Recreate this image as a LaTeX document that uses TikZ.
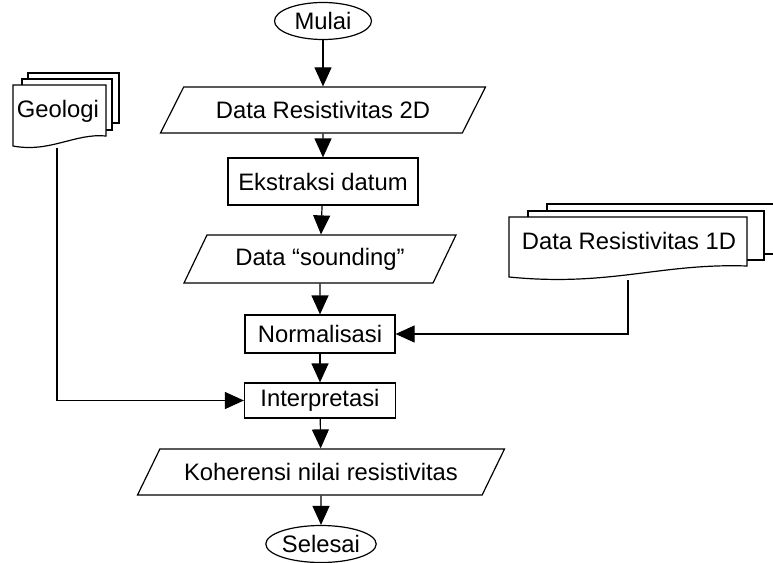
\documentclass[tikz,border=0pt]{standalone}
\usepackage{fontspec}
\setmainfont{Liberation Sans}
\usetikzlibrary{shapes.geometric,arrows.meta}

\begin{document}
\begin{tikzpicture}[x=1pt,y=-1pt,line width=1.2pt,
    font=\fontsize{23.8}{28}\selectfont,
    terminal/.style={draw, ellipse, inner sep=0pt},
    process/.style={draw, rectangle, inner sep=0pt},
    inout/.style={draw, trapezium, trapezium stretches body, inner sep=0pt},
    flow/.style={-{Triangle[width=17pt,length=19pt]}}]
    \useasboundingbox (0,0) rectangle (773,562);
    % Draw the main column
    \node[terminal, minimum width=97pt, minimum height=37pt] (mulai) at (323,21) {Mulai};
    \node[inout, trapezium left angle=37, trapezium right angle=143,
      minimum width=325pt, minimum height=46pt] (data2d) at (323,110) {Data Resistivitas 2D};
    \node[process, minimum width=190pt, minimum height=47pt] (ekstraksi) at (323,181.5) {Ekstraksi datum};
    \node[inout, trapezium left angle=44, trapezium right angle=136,
      minimum width=272pt, minimum height=48pt] (sounding) at (320,259) {Data ``sounding''};
    \node[process, minimum width=150pt, minimum height=38pt] (norm) at (320,334) {Normalisasi};
    \node[process, minimum width=151pt, minimum height=35pt] (interp) at (320,400.5) {Interpretasi};
    \node[inout, trapezium left angle=38, trapezium right angle=142,
      minimum width=367pt, minimum height=46pt] (koherensi) at (321,472) {Koherensi nilai resistivitas};
    \node[terminal, minimum width=107pt, minimum height=37pt] (selesai) at (321,544) {Selesai};
    % Draw the arrows
    \draw[flow] (mulai) -- (data2d);
    \draw[flow] (data2d) -- (ekstraksi);
    \draw[flow] (ekstraksi) -- (sounding);
    \draw[flow] (sounding) -- (norm);
    \draw[flow] (norm) -- (interp);
    \draw[flow] (interp) -- (koherensi);
    \draw[flow] (koherensi) -- (selesai);
    % Draw the Geologi documents
    \draw[fill=white] (28,73) rectangle (119,123);
    \draw[fill=white] (22,79) rectangle (112,130);
    \draw[fill=white] (13,85) -- (106,85) -- (106,136) .. controls (75,133) and (50,153) .. (13,146) -- cycle;
    \node (geologi) at (58,111) {Geologi};
    \coordinate (geoend) at (57,147.5);
    \draw[flow] (geoend) |- (interp.west);
    % Draw the 1D documents
    \draw[fill=white] (547,204) rectangle (790,254);
    \draw[fill=white] (528,211) rectangle (764,260);
    \draw[fill=white] (509,217) -- (747,217) -- (747,266) .. controls (660,263) and (610,287) .. (509,277) -- cycle;
    \node (res1d) at (629,241) {Data Resistivitas 1D};
    \coordinate (resend) at (628,280);
    \draw[flow] (resend) |- (norm.east);
\end{tikzpicture}
\end{document}
